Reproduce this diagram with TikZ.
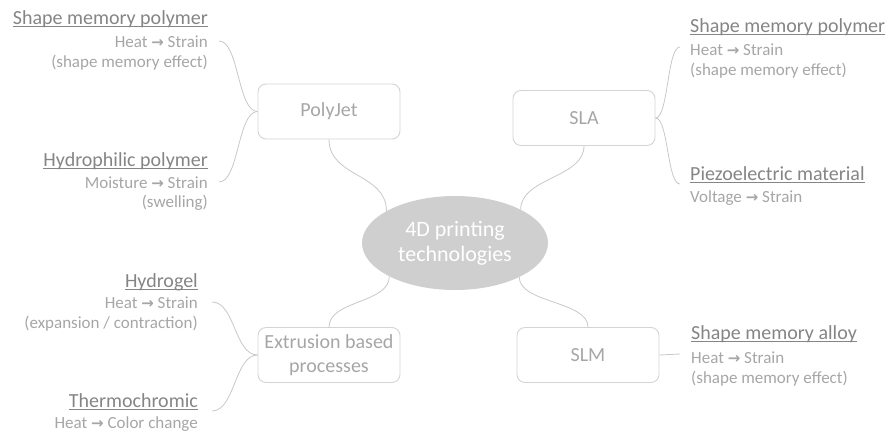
\documentclass[tikz,border=0pt]{standalone}
\usepackage{fontspec}
\setmainfont{Carlito}
\newfontfamily\arrowfont{DejaVu Sans}
\usetikzlibrary{shapes.geometric}
\definecolor{hdcol}{HTML}{858585}
\definecolor{txcol}{HTML}{A6A6A6}
\definecolor{bxcol}{HTML}{D4D4D4}
\definecolor{lncol}{HTML}{C8C8C8}
\definecolor{elcol}{HTML}{CFCFCF}
\newcommand\hdul[1]{\setbox0\hbox{#1}\rlap{\rule[-3pt]{\wd0}{0.9pt}}\box0}
\newcommand\arr{{\arrowfont\bfseries\fontsize{15}{15}\selectfont →}}
\begin{document}
\begin{tikzpicture}[x=1pt,y=-1pt,
 hd/.style={inner sep=0pt, text=hdcol, font=\fontsize{20}{24}\selectfont},
 bd/.style={inner sep=0pt, text=txcol, font=\fontsize{17}{20}\selectfont},
 tech/.style={draw=bxcol, line width=0.9pt, rounded corners=8pt, minimum width=142pt, minimum height=55pt, text=txcol, font=\fontsize{20}{24}\selectfont, align=center, inner sep=0pt},
 hub/.style={ellipse, fill=elcol, minimum width=186pt, minimum height=94pt, inner sep=0pt, text=white, font=\fontsize{22}{25}\selectfont, align=center},
 link/.style={draw=lncol, line width=0.8pt}]
\useasboundingbox (0,0) rectangle (890,434);

% central hub and technology boxes
\node[hub] (hub) at (455,243) {4D printing\\technologies};
\node[tech] (pj) at (329,111.5) {PolyJet};
\node[tech] (sla) at (584,118) {SLA};
\node[tech] (ext) at (329,355) {Extrusion based\\processes};
\node[tech] (slm) at (588,355) {SLM};

% left texts
\node[hd, anchor=base east] (smpLh) at (208,24) {\hdul{Shape memory polymer}};
\node[bd, anchor=base east] (smpLa) at (208,47) {Heat \arr{} Strain};
\node[bd, anchor=base east] (smpLb) at (208,67) {(shape memory effect)};

\node[hd, anchor=base east] (hyph) at (208,166) {\hdul{Hydrophilic polymer}};
\node[bd, anchor=base east] (hypa) at (208,188) {Moisture \arr{} Strain};
\node[bd, anchor=base east] (hypb) at (208,207) {(swelling)};

\node[hd, anchor=base east] (hgh) at (198,287) {\hdul{Hydrogel}};
\node[bd, anchor=base east] (hga) at (198,308) {Heat \arr{} Strain};
\node[bd, anchor=base east] (hgb) at (198,328) {(expansion / contraction)};

\node[hd, anchor=base east] (thh) at (198,407) {\hdul{Thermochromic}};
\node[bd, anchor=base east] (tha) at (198,428) {Heat \arr{} Color change};

% right texts
\node[hd, anchor=base west] (smpRh) at (690,32) {\hdul{Shape memory polymer}};
\node[bd, anchor=base west] (smpRa) at (690,55) {Heat \arr{} Strain};
\node[bd, anchor=base west] (smpRb) at (690,75) {(shape memory effect)};

\node[hd, anchor=base west] (pzh) at (690,180) {\hdul{Piezoelectric material}};
\node[bd, anchor=base west] (pza) at (690,202) {Voltage \arr{} Strain};

\node[hd, anchor=base west] (smah) at (691,339) {\hdul{Shape memory alloy}};
\node[bd, anchor=base west] (smaa) at (691,363) {Heat \arr{} Strain};
\node[bd, anchor=base west] (smab) at (691,383) {(shape memory effect)};

% free ends of the leaf connectors
\coordinate (c1) at (219,41);
\coordinate (c2) at (219,182);
\coordinate (c3) at (680,47);
\coordinate (c4) at (680,184);
\coordinate (c5) at (680,354);
\coordinate (c6) at (212,302);
\coordinate (c7) at (212,411);

% hub connectors
\draw[link] (pj.south) .. controls +(0,38) and +(0,-38) .. (hub.155);
\draw[link] (sla.south) .. controls +(0,32) and +(0,-32) .. (hub.27);
\draw[link] (ext.north) .. controls +(0,-27) and +(0,27) .. (hub.207);
\draw[link] (slm.north) .. controls +(0,-26) and +(0,26) .. (hub.332);

% leaf connectors
\draw[link] (pj.west) .. controls +(-20,0) and +(20,0) .. (c1);
\draw[link] (pj.west) .. controls +(-20,0) and +(20,0) .. (c2);
\draw[link] (sla.east) .. controls +(13,0) and +(-13,0) .. (c3);
\draw[link] (sla.east) .. controls +(13,0) and +(-13,0) .. (c4);
\draw[link] (slm.east) -- (c5);
\draw[link] (ext.west) .. controls +(-23,0) and +(23,0) .. (c6);
\draw[link] (ext.west) .. controls +(-23,0) and +(23,0) .. (c7);
\end{tikzpicture}
\end{document}
